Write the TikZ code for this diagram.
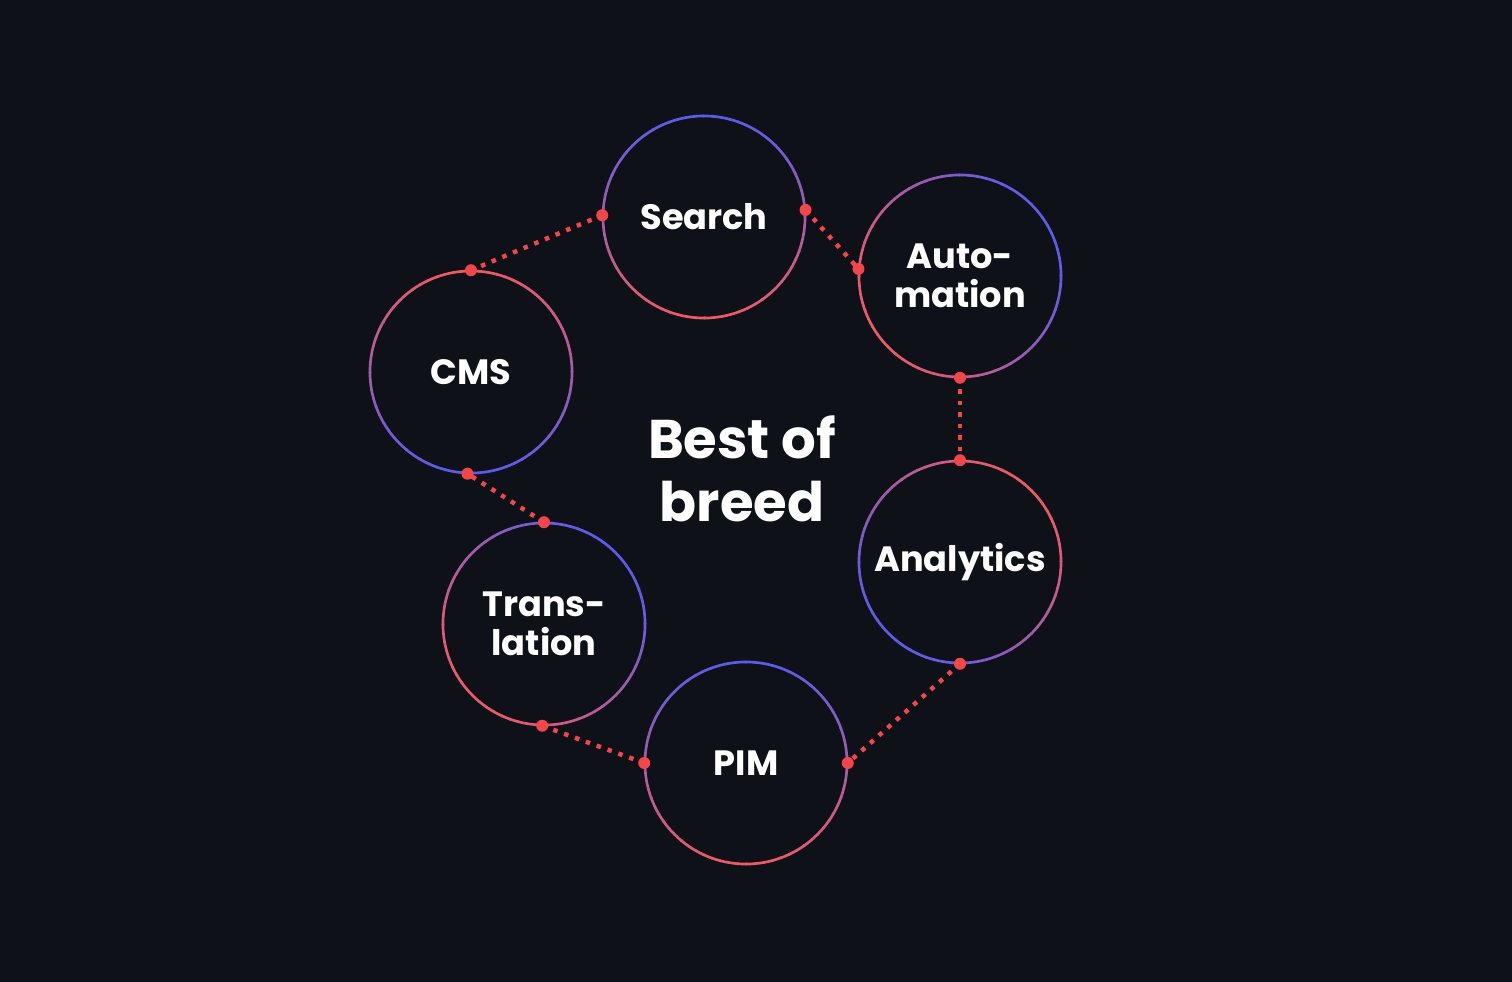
\documentclass[tikz,border=0pt]{standalone}
\usepackage{fontspec}
\setmainfont{Poppins}
\usetikzlibrary{calc}
\definecolor{bg}{HTML}{0E1118}
\definecolor{cblue}{HTML}{5A5CEB}
\definecolor{cred}{HTML}{EE5A66}
\definecolor{dotc}{HTML}{F2464A}
\newcommand\gcirc[2]{%
\foreach \a in {0,5,...,355}{%
\pgfmathsetmacro\p{50+50*cos(\a+2.5-#2)}%
\draw[line width=0.75pt, color=cblue!\p!cred] (#1.center) ++(\a:1.01cm) arc[start angle=\a, end angle=\a+5.6, radius=1.01cm];}}
\tikzset{
 hub/.style={circle, minimum size=2.02cm, text=white, font=\bfseries\fontsize{10}{11}\selectfont, align=center, inner sep=0pt},
 link/.style={dotc, dotted, line width=0.45mm},
 pin/.style={circle, fill=dotc, inner sep=0pt, minimum size=0.12cm}
}
\begin{document}
\begin{tikzpicture}[x=0.01cm,y=-0.01cm]
\fill[bg] (0,0) rectangle (1512,982);
\useasboundingbox (0,0) rectangle (1512,982);
\node[hub] (s) at (704,217) {Search};
\node[hub] (au) at (960,276) {Auto-\\mation};
\node[hub] (c) at (471,372) {CMS};
\node[hub] (an) at (960,562) {Analytics};
\node[hub] (t) at (544,624) {Trans-\\lation};
\node[hub] (p) at (746,763) {PIM};
\gcirc{s}{90}\gcirc{au}{30}\gcirc{c}{270}\gcirc{an}{225}\gcirc{t}{45}\gcirc{p}{90}
\node[text=white, font=\bfseries\fontsize{15.5}{18}\selectfont, align=center] (title) at (742,469) {Best of\\breed};
\foreach \A/\B/\n in {s.179/c.90/1, s.4/au.176/2, au.270/an.90/3, an.270/p.0/4, p.180/t.269/5, t.90/c.268/6}{
 \coordinate (a\n) at (\A); \coordinate (b\n) at (\B);
 \draw[link] (a\n) -- (b\n);
 \node[pin] at (a\n) {}; \node[pin] at (b\n) {};
}
\end{tikzpicture}
\end{document}
